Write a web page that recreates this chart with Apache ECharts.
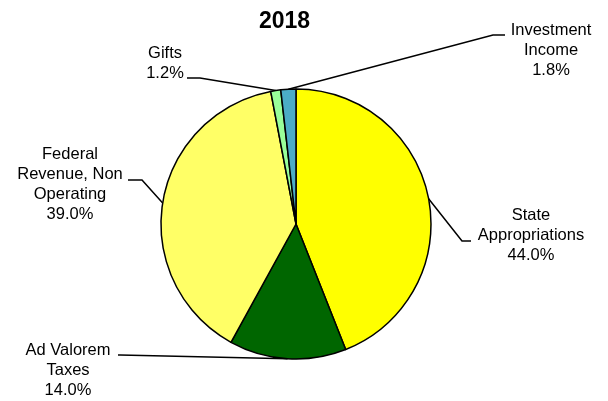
<!DOCTYPE html>
<html>
<head>
<meta charset="utf-8">
<script src="https://cdn.jsdelivr.net/npm/echarts@6/dist/echarts.min.js"></script>
<style>
  html, body { margin: 0; padding: 0; background: #fff; }
  #chart { width: 608px; height: 401px; }
</style>
</head>
<body>
<div id="chart"></div>
<script>
// Revenue sources, 2018
const titleText = '2018';
const categories = ['State\nAppropriations', 'Ad Valorem\nTaxes', 'Federal\nRevenue, Non\nOperating', 'Gifts', 'Investment\nIncome'];
const shares = [44.0, 14.0, 39.0, 1.2, 1.8];
const colors = ['#FFFF00', '#006600', '#FFFF66', '#99FF99', '#4BACC6'];

// Label placement: text block centre and leader-line elbow / end for each slice
const labelPlacement = [
  { cx: 531, cy: 235, elbow: [462, 241], end: [471, 241] },
  { cx: 68,  cy: 370, elbow: [120, 355], end: [118, 355] },
  { cx: 70,  cy: 184, elbow: [142, 180], end: [128, 180] },
  { cx: 165, cy: 63,  elbow: [200, 78],  end: [187, 78] },
  { cx: 551, cy: 50,  elbow: [493, 35],  end: [505, 35] }
];

const chart = echarts.init(document.getElementById('chart'), null, { renderer: 'canvas' });

chart.setOption({
  animation: false,
  backgroundColor: '#ffffff',
  title: {
    text: titleText,
    left: 259,
    top: 10,
    padding: 0,
    textStyle: { fontFamily: 'Liberation Sans, Arial, sans-serif', fontSize: 23, fontWeight: 'bold', color: '#000' }
  },
  series: [{
    type: 'pie',
    center: [296, 224],
    radius: [0, 135],
    startAngle: 90,
    clockwise: true,
    avoidLabelOverlap: false,
    data: categories.map((name, i) => ({
      name: name,
      value: shares[i],
      itemStyle: { color: colors[i] }
    })),
    itemStyle: { borderColor: '#000', borderWidth: 1.5 },
    emphasis: { disabled: true },
    label: {
      show: true,
      position: 'outside',
      formatter: p => p.name + '\n' + p.value.toFixed(1) + '%',
      fontFamily: 'Liberation Sans, Arial, sans-serif',
      fontSize: 16.5,
      lineHeight: 20,
      color: '#000',
      align: 'center'
    },
    labelLine: {
      show: true,
      length: 10,
      length2: 10,
      lineStyle: { color: '#000', width: 1.5 }
    },
    labelLayout: function (params) {
      const p = labelPlacement[params.dataIndex];
      const start = params.labelLinePoints ? params.labelLinePoints[0] : p.elbow;
      return {
        x: p.cx,
        y: p.cy,
        align: 'center',
        verticalAlign: 'middle',
        labelLinePoints: [start, p.elbow, p.end]
      };
    }
  }]
});
</script>
</body>
</html>
